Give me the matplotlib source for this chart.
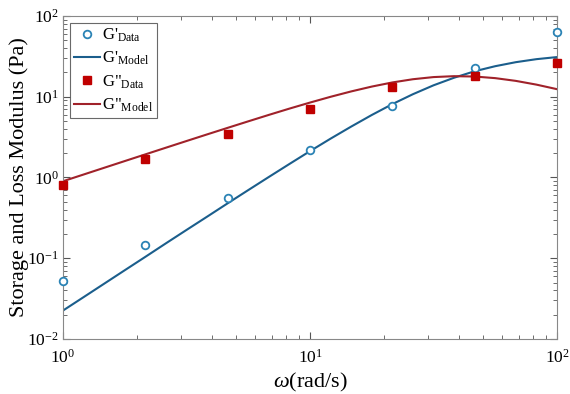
import matplotlib
matplotlib.use("Agg")
import matplotlib.pyplot as plt
import numpy as np

plt.rcParams['font.family'] = ['Liberation Serif', 'DejaVu Serif']
plt.rcParams['mathtext.fontset'] = 'custom'
plt.rcParams['mathtext.rm'] = 'Liberation Serif'
plt.rcParams['mathtext.it'] = 'Liberation Serif:italic'
plt.rcParams['axes.unicode_minus'] = False

# measured points
w_data = [1.0, 2.154, 4.642, 10.0, 21.54, 46.42, 100.0]
g1_data = [0.052, 0.145, 0.55, 2.2, 7.7, 22.8, 63.0]
g2_data = [0.80, 1.70, 3.5, 7.1, 13.3, 18.0, 26.0]

# model curves, 12 points per decade
w_model = [1.0, 1.212, 1.468, 1.778, 2.154, 2.610, 3.162, 3.831, 4.642,
           5.623, 6.813, 8.254, 10.0, 12.12, 14.68, 17.78, 21.54, 26.10,
           31.62, 38.31, 46.42, 56.23, 68.13, 82.54, 100.0]
g1_model = [0.0225, 0.0330, 0.0484, 0.0710, 0.104, 0.153, 0.224, 0.327,
            0.479, 0.698, 1.015, 1.47, 2.12, 3.03, 4.27, 5.94, 8.10, 10.75,
            13.85, 17.2, 20.7, 23.9, 26.8, 29.2, 31.0]
g2_model = [0.899, 1.089, 1.319, 1.597, 1.933, 2.339, 2.829, 3.417, 4.12,
            4.96, 5.96, 7.13, 8.47, 9.99, 11.64, 13.36, 15.03, 16.48, 17.52,
            17.98, 17.80, 17.00, 15.72, 14.13, 12.41]

blue_pt = '#2b83b5'
blue_ln = '#1b5e8c'
red_pt = '#c00000'
red_ln = '#a0222a'

fig = plt.figure(figsize=(5.7, 3.94), dpi=100)
ax = fig.add_axes([0.1105, 0.1396, 0.8667, 0.8198])

ax.plot(w_data, g1_data, 'o', mfc='white', mec=blue_pt, mew=1.3, ms=5.5,
        label="G'$_{\\mathrm{Data}}$", clip_on=False, zorder=4)
ax.plot(w_model, g1_model, '-', color=blue_ln, lw=1.5,
        label="G'$_{\\mathrm{Model}}$")
ax.plot(w_data, g2_data, 's', mfc=red_pt, mec=red_pt, ms=5.5,
        label='G"$_{\\mathrm{Data}}$', clip_on=False, zorder=4)
ax.plot(w_model, g2_model, '-', color=red_ln, lw=1.5,
        label='G"$_{\\mathrm{Model}}$')

ax.set_xscale('log')
ax.set_yscale('log')
ax.set_xlim(1, 100)
ax.set_ylim(0.01, 100)

ax.tick_params(which='both', direction='in', top=True, right=True,
               colors='#555555', labelcolor='black', labelsize=12.5)
ax.tick_params(which='major', length=5)
ax.tick_params(which='minor', length=3)
ax.tick_params(axis='x', pad=7)
ax.tick_params(axis='y', pad=3)
for s in ax.spines.values():
    s.set_color('#888888')

ax.set_xlabel('$\\mathit{\\omega}$(rad/s)', fontsize=16, labelpad=3)
ax.set_ylabel('Storage and Loss Modulus (Pa)', fontsize=16)
ax.yaxis.set_label_coords(-0.068, 0.5)

leg = ax.legend(loc='upper left', fontsize=12, frameon=True, fancybox=False,
                edgecolor='#444444', handlelength=1.6, borderpad=0.25,
                labelspacing=0.35, handletextpad=0.1, borderaxespad=0.4)
leg.get_frame().set_linewidth(0.8)

fig.savefig('out.png', dpi=100)
